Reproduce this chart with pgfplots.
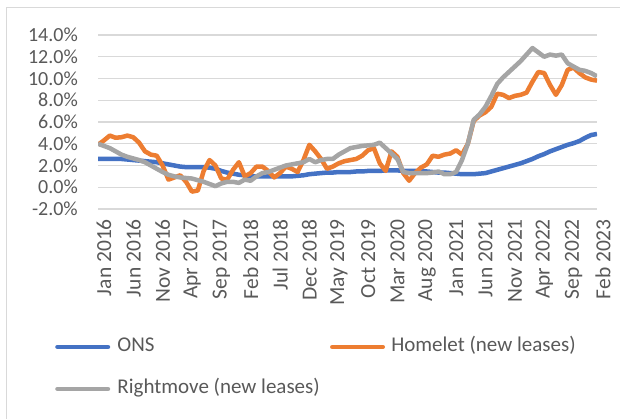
\documentclass[border=0pt]{standalone}
\usepackage{pgfplots}
\pgfplotsset{compat=1.18}
\usepackage{pgfplotstable}
\usepackage{fontspec}
\setmainfont{Carlito}

\definecolor{onsblue}{HTML}{4472C4}
\definecolor{homeorange}{HTML}{ED7D31}
\definecolor{rmgray}{HTML}{A5A5A5}
\definecolor{gridgray}{HTML}{D9D9D9}
\definecolor{txtgray}{HTML}{595959}

% m = months since Jan 2016
\pgfplotstableread{
m ons homelet rightmove
0 2.6 3.9 4.0
1 2.6 4.3 3.8
2 2.6 4.75 3.6
3 2.6 4.55 3.3
4 2.6 4.6 3.0
5 2.55 4.75 2.8
6 2.5 4.6 2.65
7 2.45 4.1 2.5
8 2.4 3.3 2.3
9 2.35 3.0 2.0
10 2.3 2.9 1.7
11 2.2 2.0 1.4
12 2.1 0.7 1.15
13 2.0 0.9 1.0
14 1.9 1.1 0.9
15 1.85 0.5 0.85
16 1.85 -0.4 0.8
17 1.85 -0.3 0.65
18 1.85 1.5 0.5
19 1.8 2.5 0.3
20 1.7 2.0 0.1
21 1.5 0.8 0.35
22 1.35 0.7 0.5
23 1.25 1.6 0.5
24 1.15 2.3 0.4
25 1.1 1.0 0.7
26 1.0 1.3 0.6
27 1.0 1.9 1.0
28 1.0 1.9 1.3
29 1.0 1.5 1.4
30 1.0 0.9 1.6
31 1.0 1.3 1.8
32 1.0 1.9 2.0
33 1.0 1.7 2.1
34 1.05 1.4 2.2
35 1.1 2.5 2.3
36 1.2 3.9 2.6
37 1.25 3.3 2.3
38 1.3 2.6 2.5
39 1.35 1.7 2.6
40 1.35 1.9 2.6
41 1.4 2.2 3.0
42 1.4 2.4 3.3
43 1.4 2.5 3.6
44 1.45 2.6 3.7
45 1.45 2.9 3.8
46 1.5 3.4 3.85
47 1.5 3.6 3.9
48 1.5 2.2 4.1
49 1.55 1.5 3.6
50 1.55 3.3 3.1
51 1.55 2.8 2.6
52 1.5 1.3 1.4
53 1.5 0.6 1.3
54 1.5 1.3 1.3
55 1.45 1.8 1.3
56 1.45 2.1 1.3
57 1.4 2.9 1.35
58 1.35 2.8 1.45
59 1.35 3.0 1.2
60 1.3 3.1 1.2
61 1.25 3.4 1.4
62 1.2 3.0 2.5
63 1.2 4.0 4.0
64 1.2 6.1 6.2
65 1.25 6.6 6.7
66 1.3 6.9 7.4
67 1.45 7.4 8.4
68 1.6 8.6 9.5
69 1.75 8.5 10.1
70 1.9 8.2 10.6
71 2.05 8.4 11.1
72 2.2 8.5 11.6
73 2.4 8.7 12.2
74 2.6 9.7 12.8
75 2.85 10.6 12.4
76 3.05 10.5 12.0
77 3.3 9.4 12.2
78 3.5 8.5 12.1
79 3.7 9.4 12.2
80 3.9 10.8 11.4
81 4.05 11.0 11.1
82 4.25 10.5 10.8
83 4.55 10.1 10.7
84 4.8 9.9 10.5
85 4.9 9.8 10.2
}\rentdata

\begin{document}
\begin{tikzpicture}[x=1pt,y=1pt]
\useasboundingbox (0,0) rectangle (620,419);
% chart border (cropped)
\draw[gridgray, line width=1.5pt] (6.5,-10) |- (640,411.5);

\begin{axis}[
  at={(98pt,210pt)}, anchor=south west,
  scale only axis, width=499pt, height=174pt,
  xmin=0, xmax=85, ymin=-2, ymax=14,
  axis line style={draw=none},
  major tick length=0pt,
  ymajorgrids, grid style={gridgray, line width=1.3pt},
  ytick={-2,0,...,14},
  yticklabels={-2.0\%,0.0\%,2.0\%,4.0\%,6.0\%,8.0\%,10.0\%,12.0\%,14.0\%},
  yticklabel style={font=\fontsize{20}{24}\selectfont, text=txtgray, inner sep=0pt, xshift=-20pt},
  xtick={0,5,...,85},
  xticklabels={Jan 2016,Jun 2016,Nov 2016,Apr 2017,Sep 2017,Feb 2018,Jul 2018,Dec 2018,May 2019,Oct 2019,Mar 2020,Aug 2020,Jan 2021,Jun 2021,Nov 2021,Apr 2022,Sep 2022,Feb 2023},
  xticklabel style={font=\fontsize{21.5}{25}\selectfont, text=txtgray, inner sep=0pt, xshift=6pt, yshift=-10pt, rotate=90, anchor=east},
  legend columns=2,
  legend cell align=left,
  legend style={draw=none, fill=none, inner sep=0pt, outer sep=0pt,
    at={(-0.0902,-0.7356)}, anchor=north west,
    font=\fontsize{21}{25}\selectfont, text=txtgray,
    nodes={inner sep=0pt, text height=15pt, text depth=5pt},
    row sep=22pt,
    /tikz/column 1/.style={column sep=5pt},
    /tikz/column 2/.style={column sep=8pt},
    /tikz/column 3/.style={column sep=4pt}},
  legend image code/.code={\path (0pt,0pt) (55pt,0pt); \draw[line width=4.5pt, line cap=round] (2.25pt,0pt) -- (52.75pt,0pt);},
  every axis plot/.append style={line width=4.5pt, line join=round, no marks},
]
\addplot[onsblue] table[x=m, y=ons] {\rentdata};
\addlegendentry{ONS}
\addplot[homeorange] table[x=m, y=homelet] {\rentdata};
\addlegendentry{Homelet (new leases)}
\addplot[rmgray] table[x=m, y=rightmove] {\rentdata};
\addlegendentry{Rightmove (new leases)}
\end{axis}
\end{tikzpicture}
\end{document}
